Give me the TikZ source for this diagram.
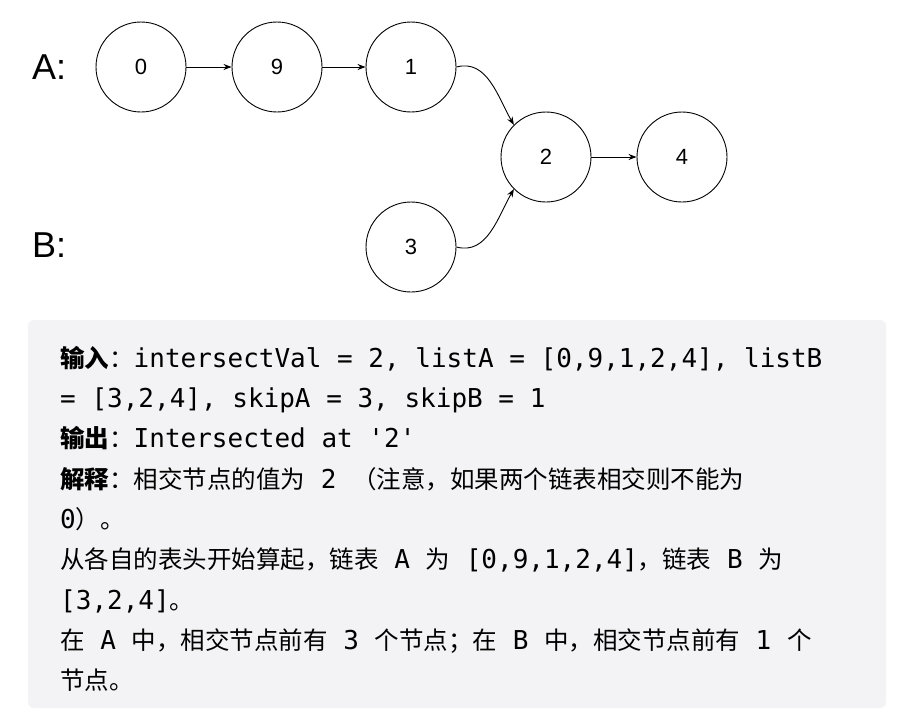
\documentclass[tikz,border=0pt]{standalone}
\usepackage{fontspec}
\setmainfont{Noto Sans CJK SC}
\setsansfont{Liberation Sans}
\setmonofont{DejaVu Sans Mono}
\usetikzlibrary{arrows.meta}
\newcommand{\mn}[1]{{\ttfamily\fontsize{26}{26}\selectfont #1}}
\begin{document}
\begin{tikzpicture}[x=1pt,y=-1pt,
  ll/.style={circle,draw,line width=0.9pt,minimum size=90pt,inner sep=0pt,font=\sffamily\fontsize{22}{22}\selectfont},
  arr/.style={-{Stealth[length=8pt,width=6pt]},line width=0.9pt},
  tx/.style={anchor=base west,inner sep=0pt,font=\fontsize{24.5}{24.5}\selectfont}]
\useasboundingbox (0,0) rectangle (900,720);
\fill[fill=white] (0,0) rectangle (900,720);
\node[ll] (n0) at (141,67) {0};
\node[ll] (n9) at (277,67) {9};
\node[ll] (n1) at (411,67) {1};
\node[ll] (n2) at (546,157) {2};
\node[ll] (n4) at (682,157) {4};
\node[ll] (n3) at (411,247) {3};
\node[font=\sffamily\fontsize{36}{36}\selectfont,anchor=base west,inner sep=0pt] (la) at (32,79) {A:};
\node[font=\sffamily\fontsize{36}{36}\selectfont,anchor=base west,inner sep=0pt] (lb) at (32,257) {B:};
\draw[arr] (n0) -- (n9);
\draw[arr] (n9) -- (n1);
\draw[arr] (n2) -- (n4);
\draw[arr] (n1.east) to[out=15,in=120] (n2.135);
\draw[arr] (n3.east) to[out=-15,in=240] (n2.225);
\fill[fill={rgb,255:red,243;green,243;blue,245},rounded corners=6pt] (28,320) rectangle (886,708);
\node[tx] (t1) at (60,367) {\textbf{输入}：\mn{intersectVal = 2, listA = [0,9,1,2,4], listB}};
\node[tx] (t2) at (60,407) {\mn{= [3,2,4], skipA = 3, skipB = 1}};
\node[tx] (t3) at (60,447) {\textbf{输出}：\mn{Intersected at \char39 2\char39}};
\node[tx] (t4) at (60,488) {\textbf{解释}：相交节点的值为\mn{ 2 }（注意，如果两个链表相交则不能为};
\node[tx] (t5) at (60,528) {\mn{0}）。};
\node[tx] (t6) at (60,568) {从各自的表头开始算起，链表\mn{ A }为\mn{ [0,9,1,2,4]}，链表\mn{ B }为};
\node[tx] (t7) at (60,609) {\mn{[3,2,4]}。};
\node[tx] (t8) at (60,649) {在\mn{ A }中，相交节点前有\mn{ 3 }个节点；在\mn{ B }中，相交节点前有\mn{ 1 }个};
\node[tx] (t9) at (60,689) {节点。};
\end{tikzpicture}
\end{document}
